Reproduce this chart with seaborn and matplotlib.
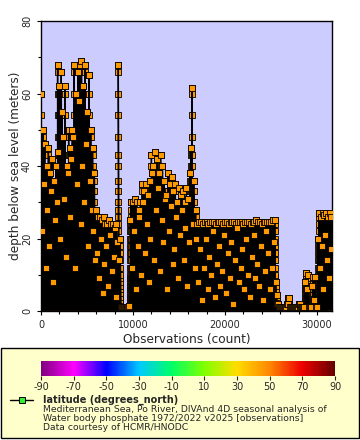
import pandas as pd
import matplotlib
matplotlib.use("Agg")
import matplotlib.pyplot as plt
import seaborn as sns
from matplotlib.colors import LinearSegmentedColormap, Normalize
from matplotlib.cm import ScalarMappable
from matplotlib.patches import Rectangle
from matplotlib.lines import Line2D
from matplotlib.ticker import MultipleLocator

# -----------------------------
# Data
# -----------------------------
# observation count at each cast and the deepest sample of that cast (m)
cast_obs = [
    0, 200, 400, 600, 800, 1000, 1200, 1400, 1600, 1800,
    2000, 2200, 2400, 2600, 2800, 3000, 3200, 3400, 3600, 3800,
    4000, 4200, 4400, 4600, 4800, 5000, 5200, 5400, 5600, 5800,
    6000, 6200, 6400, 6600, 6800, 7000, 7200, 7400, 7600, 7800,
    8000, 8200, 8400, 8600, 8800, 9000, 9200, 9400, 9600, 9800,
    10000, 10200, 10400, 10600, 10800, 11000, 11200, 11400, 11600, 11800,
    12000, 12200, 12400, 12600, 12800, 13000, 13200, 13400, 13600, 13800,
    14000, 14200, 14400, 14600, 14800, 15000, 15200, 15400, 15600, 15800,
    16000, 16200, 16400, 16600, 16800, 17000, 17200, 17400, 17600, 17800,
    18000, 18200, 18400, 18600, 18800, 19000, 19200, 19400, 19600, 19800,
    20000, 20200, 20400, 20600, 20800, 21000, 21200, 21400, 21600, 21800,
    22000, 22200, 22400, 22600, 22800, 23000, 23200, 23400, 23600, 23800,
    24000, 24200, 24400, 24600, 24800, 25000, 25200, 25400, 25600, 25800,
    26000, 26200, 26400, 26600, 26800, 27000, 27200, 27400, 27600, 27800,
    28000, 28200, 28400, 28600, 28800, 29000, 29200, 29400, 29600, 29800,
    30000, 30200, 30400, 30600, 30800, 31000, 31200, 31400, 31550,
]
cast_bottom = [
    60, 50, 46, 40, 45, 38, 42, 36, 40, 68,
    62, 66, 48, 62, 40, 50, 45, 50, 68, 60,
    66, 68, 69, 62, 68, 55, 65, 50, 45, 38,
    28, 26, 26, 25, 26, 24, 24, 25, 24, 24,
    23, 24, 68, 20, 1, 1, 1, 1, 1.5, 30,
    30, 31, 30, 28, 30, 35, 33, 35, 32, 36,
    43, 40, 44, 42, 38, 43, 40, 36, 32, 38,
    35, 37, 33, 35, 30, 34, 32, 33, 30, 34,
    31, 38, 61.5, 36, 28, 24, 24.5, 24.5, 24, 24.5,
    24.5, 24, 24.5, 24.5, 24.5, 24, 24.5, 24.5, 24.5, 24,
    24.5, 24.5, 24, 24.5, 24.5, 24.5, 24, 24.5, 24.5, 24.5,
    24, 24.5, 24.5, 24.5, 24, 24.5, 24.5, 25, 24.5, 24.5,
    24, 24.5, 24.5, 24.5, 24.5, 24.5, 25, 25, 4.4, 2,
    1, 1, 1, 1, 3.6, 3.6, 1, 1, 1, 1,
    2, 2, 1, 1, 10.5, 10, 1, 1, 9.4, 9.4,
    1, 27, 26, 27, 26.5, 27, 26, 27, 26,
]
# shorter casts lying between the casts above (deepest sample, m)
between_bottom = [
    22, 35, 12, 28, 18, 33, 8, 25, 30,
    44, 20, 55, 31, 15, 38, 26, 42, 48, 12, 35, 58, 24, 40, 30, 46, 18,
    36, 28, 22, 14,
    16, 9, 20, 5, 13, 18, 7, 21, 11, 15, 4, 19, 14, 1,
    1, 1, 1, 1, 25,
    12, 22, 6, 18, 26, 10, 30, 16, 24, 8, 20, 38, 14, 28, 34, 11, 25, 19,
    31, 6, 22, 29, 13, 17, 26, 9, 21, 28, 14, 23, 7, 19, 45, 24, 12, 20,
    8, 17, 3, 12, 20, 6, 15, 10, 22, 4, 13, 18, 7, 11, 21, 5, 16, 9, 19, 2,
    14, 23, 8, 12, 17, 6, 20, 10, 4, 15, 21, 9, 13, 7, 18, 3, 11, 22, 16, 6,
    12, 19, 8,
    2, 1, 1, 1, 1, 2, 2, 1, 1, 1, 1, 1, 1, 1, 1, 8, 6, 1, 1, 7, 3, 1,
    20, 12, 18, 6, 21, 14, 9, 17,
]
# sampling levels used by the casts (m)
depth_levels = [0.5, 1, 1.5, 2, 3, 4, 5, 6, 7, 8, 9, 10, 12, 14, 16, 18,
                20, 22, 24, 26, 28, 30, 33, 36, 40, 43, 48, 54, 60, 66]

# colour bar (latitude palette)
cbar_stops = [-90, -70, -50, -30, -10, 10, 30, 50, 70, 90]
cbar_colors = ["#800080", "#ff00ff", "#0000ff", "#00c8ff", "#00ff66",
               "#80ff00", "#ffdd00", "#ff8800", "#ee0000", "#660000"]
cbar_ticks = [-90, -70, -50, -30, -10, 10, 30, 50, 70, 90]

legend_title = "latitude (degrees_north)"
legend_text = [
    "Mediterranean Sea, Po River, DIVAnd 4D seasonal analysis of",
    "Water body phosphate 1972/2022 v2025 [observations]",
    "Data courtesy of HCMR/HNODC",
]

# -----------------------------
# Build the observation table
# -----------------------------
def add_cast(rows, obs, bottom):
    for d in depth_levels:
        if d < bottom:
            rows.append((obs, d, False))
    rows.append((obs, bottom, True))

rows = []
for i, (obs, bottom) in enumerate(zip(cast_obs, cast_bottom)):
    add_cast(rows, obs, bottom)
    if i < len(between_bottom):
        add_cast(rows, (obs + cast_obs[i + 1]) / 2, between_bottom[i])
df = pd.DataFrame(rows, columns=["obs", "depth", "deepest"])

# -----------------------------
# Plot
# -----------------------------
sns.set_style("white")
plt.rcParams["font.family"] = ["DejaVu Sans"]
plt.rcParams["axes.unicode_minus"] = False

fig = plt.figure(figsize=(3.6, 4.4), dpi=100)

# legend box (drawn behind everything)
fig.patches.append(Rectangle((1 / 360, 2 / 440), 358 / 360, 90 / 440,
                             transform=fig.transFigure, facecolor="#ffffcc",
                             edgecolor="black", linewidth=1, zorder=-5))

ax = fig.add_axes([41 / 360, 1 - 311 / 440, 291 / 360, 290 / 440])
ax.set_facecolor("#ccccff")

sns.scatterplot(data=df, x="obs", y="depth", marker="s", s=13,
                color="#ff9900", edgecolor="black", linewidth=0.6,
                zorder=2, ax=ax, legend=False)
sns.lineplot(data=df, x="obs", y="depth", sort=False, estimator=None,
             color="black", linewidth=1.0, zorder=3, ax=ax)
sns.scatterplot(data=df[df["deepest"]], x="obs", y="depth", marker="s",
                s=13, color="#ff9900", edgecolor="black", linewidth=0.6,
                zorder=4, ax=ax, legend=False)

ax.set_xlim(0, 31630)
ax.set_ylim(0, 80)
ax.xaxis.set_major_locator(MultipleLocator(10000))
ax.xaxis.set_minor_locator(MultipleLocator(2000))
ax.yaxis.set_major_locator(MultipleLocator(20))
ax.yaxis.set_minor_locator(MultipleLocator(10))
ax.tick_params(which="both", direction="out", color="black",
               bottom=True, left=True, labelsize=7)
ax.tick_params(which="major", length=3, width=0.8)
ax.tick_params(which="minor", length=2, width=0.8)
for lab in ax.get_yticklabels():
    lab.set_rotation(90)
    lab.set_va("center")
for sp in ax.spines.values():
    sp.set_color("black")
    sp.set_linewidth(1)
ax.set_xlabel("Observations (count)", fontsize=8.7, labelpad=2)
ax.set_ylabel("depth below sea level (meters)", fontsize=8.7)
ax.yaxis.set_label_coords(-0.065, 0.5)

cax = fig.add_axes([41 / 360, 1 - 376 / 440, 294 / 360, 15 / 440])
cmap = LinearSegmentedColormap.from_list(
    "lat", [((s + 90) / 180, c) for s, c in zip(cbar_stops, cbar_colors)])
cb = fig.colorbar(ScalarMappable(norm=Normalize(-90, 90), cmap=cmap),
                  cax=cax, orientation="horizontal")
cb.set_ticks(cbar_ticks)
cb.outline.set_visible(False)
cax.tick_params(labelsize=7, length=3, width=0.8, pad=1)

fig.add_artist(Line2D([10 / 360, 33 / 360], [1 - 400 / 440] * 2,
                      transform=fig.transFigure, color="black", lw=1,
                      zorder=5))
fig.add_artist(Line2D([21.5 / 360], [1 - 400 / 440],
                      transform=fig.transFigure, color="black", lw=0,
                      marker="s", markersize=4, markerfacecolor="#33ee33",
                      markeredgecolor="black", markeredgewidth=0.7, zorder=6))
fig.text(43 / 360, 1 - 400 / 440, legend_title, fontsize=7,
         fontweight="bold", va="center")
for i, line in enumerate(legend_text):
    fig.text(43 / 360, 1 - (409 + 9 * i) / 440, line, fontsize=6.7,
             va="center")

fig.savefig("out.png", dpi=100)
